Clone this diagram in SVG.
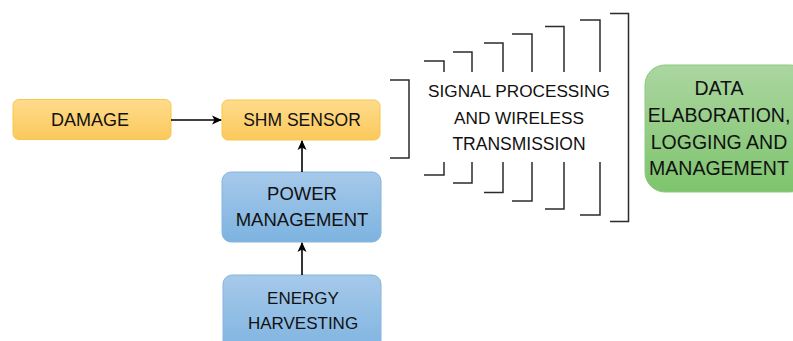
<svg xmlns="http://www.w3.org/2000/svg" width="793" height="341" viewBox="0 0 793 341">
<defs>
<linearGradient id="gOr" x1="0" y1="0" x2="0" y2="1"><stop offset="0" stop-color="#ffdb8c"/><stop offset="1" stop-color="#fbc95c"/></linearGradient>
<linearGradient id="gBl" x1="0" y1="0" x2="0" y2="1"><stop offset="0" stop-color="#a6c9ea"/><stop offset="1" stop-color="#7db3e0"/></linearGradient>
<linearGradient id="gGr" x1="0" y1="0" x2="0" y2="1"><stop offset="0" stop-color="#abd6a0"/><stop offset="1" stop-color="#7ec46d"/></linearGradient>
<marker id="arr" viewBox="0 0 10 10" refX="9" refY="5" markerWidth="10" markerHeight="10" markerUnits="userSpaceOnUse" orient="auto"><path d="M0,0.5 L10,5 L0,9.5 L2.5,5 z" fill="#000"/></marker>
</defs>
<style>
text{font-family:"Liberation Sans",Arial,sans-serif;fill:#111;text-anchor:middle}
.or{fill:url(#gOr);stroke:#f5c74a;stroke-width:1}
.bl{fill:url(#gBl);stroke:#86b4de;stroke-width:1}
.gr{fill:url(#gGr);stroke:#8cc97f;stroke-width:1}
.br{fill:none;stroke:#2b2b2b;stroke-width:1.5}
.con{fill:none;stroke:#000;stroke-width:1.6;marker-end:url(#arr)}
</style>
<rect width="793" height="341" fill="#fff"/>
<g id="damage"><rect class="or" x="13" y="99.5" width="158" height="40" rx="6"/><text x="90" y="126" font-size="18">DAMAGE</text></g>
<g id="shm-sensor"><rect class="or" x="222" y="100" width="158" height="40" rx="6"/><text x="302" y="126" font-size="17.5">SHM SENSOR</text></g>
<g id="power-management"><rect class="bl" x="222" y="172" width="159" height="70" rx="9"/><text x="302" y="200" font-size="18.5">POWER</text><text x="302" y="226" font-size="18.5">MANAGEMENT</text></g>
<g id="energy-harvesting"><rect class="bl" x="223" y="275" width="158" height="80" rx="9"/><text x="303" y="304" font-size="17">ENERGY</text><text x="303" y="329" font-size="17">HARVESTING</text></g>
<g id="signal-processing">
<path class="br" d="M390,80 H409 V158 H390"/>
<path class="br" d="M424,61 H444 V72 M424,175 H444 V162"/>
<path class="br" d="M453,52 H472 V72 M453,183 H472 V162"/>
<path class="br" d="M484,43 H503 V72 M484,192.5 H503 V162"/>
<path class="br" d="M512,34 H532 V72 M512,201 H532 V162"/>
<path class="br" d="M545,26.5 H564 V72 M545,209 H564 V162"/>
<path class="br" d="M580,20 H600 V72 M580,215 H600 V162"/>
<path class="br" d="M610,13.5 H628.5 V221.5 H610"/>
<text x="519" y="97" font-size="17.2">SIGNAL PROCESSING</text>
<text x="519" y="123.5" font-size="17.2">AND WIRELESS</text>
<text x="519" y="149.5" font-size="17.5">TRANSMISSION</text>
</g>
<g id="data-elaboration"><rect class="gr" x="645" y="65" width="165" height="127" rx="20"/><text x="719" y="95" font-size="19.5">DATA</text><text x="719" y="122" font-size="19.5">ELABORATION,</text><text x="719" y="149" font-size="19.5">LOGGING AND</text><text x="719" y="175" font-size="19.5">MANAGEMENT</text></g>
<g id="connectors">
<line class="con" x1="171" y1="120" x2="221" y2="120"/>
<line class="con" x1="302" y1="172" x2="302" y2="141"/>
<line class="con" x1="302" y1="275" x2="302" y2="243"/>
</g>
</svg>
